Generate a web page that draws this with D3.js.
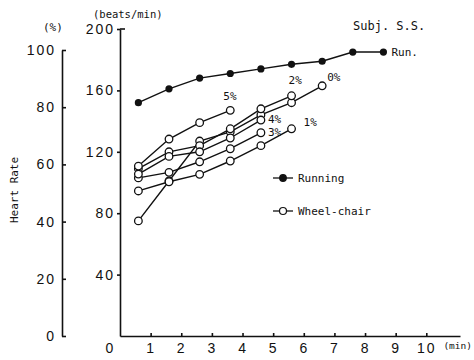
<!DOCTYPE html>
<html>
<head>
<meta charset="utf-8">
<script src="https://cdn.jsdelivr.net/npm/d3@7"></script>
<style>
  body { margin: 0; background: #fff; }
  svg { display: block; }
  .mono { font-family: "DejaVu Sans Mono", "Liberation Mono", monospace; fill: #111; }
  .tick text { font-family: "Liberation Sans", Arial, sans-serif; font-size: 14px; letter-spacing: 2px; fill: #111; }
  .domain, .tick line { stroke: #111; stroke-width: 1.6; }
</style>
</head>
<body>
<div id="chart"></div>
<script>
// time (min) of each measurement
var minutes = [0.6, 1.6, 2.6, 3.6, 4.6, 5.6, 6.6, 7.6, 8.6];

// heart rate (beats/min)
var running = [152, 161, 168, 171, 174, 177, 179, 185, 185];
var wheel0 = [75, 101, 127, 133, 144, 152, 163];
var wheel1 = [94.5, 100.5, 105.3, 114, 124, 135];
var wheel2 = [109, 120, 124, 135, 148, 156.5];
var wheel3 = [103, 106.6, 113.5, 122, 132.4];
var wheel4 = [105.5, 117, 120, 129, 140.7];
var wheel5 = [110.7, 128.3, 139, 147];

var wheelNames = ["0%", "1%", "2%", "3%", "4%", "5%"];
var wheelSeries = [wheel0, wheel1, wheel2, wheel3, wheel4, wheel5];

// tick labels
var xTicks = [0, 1, 2, 3, 4, 5, 6, 7, 8, 9, 10];
var yTicks = [40, 80, 120, 160, 200];
var pctTicks = [0, 20, 40, 60, 80, 100];

var width = 474, height = 360;

var svg = d3.select("#chart").append("svg")
    .attr("width", width)
    .attr("height", height);

// scales
var x = d3.scaleLinear().domain([0, 11.1]).range([120, 460]);
var y = d3.scaleLinear().domain([0, 200]).range([336, 29]);
var yPct = d3.scaleLinear().domain([0, 100]).range([336, 50]);

// main y axis (beats/min)
svg.append("g")
    .attr("transform", "translate(120,0)")
    .call(d3.axisLeft(y).tickValues(yTicks).tickSize(3).tickPadding(2).tickSizeOuter(0));
// small cap at the top of the axis
svg.append("line")
    .attr("x1", x(0)).attr("x2", x(0) + 5)
    .attr("y1", y(200)).attr("y2", y(200))
    .attr("stroke", "#111").attr("stroke-width", 1.6);

// percent axis
var pctAxis = svg.append("g")
    .attr("transform", "translate(62,0)")
    .call(d3.axisRight(yPct).tickValues(pctTicks).tickSize(4).tickSizeOuter(0));
pctAxis.selectAll(".tick text")
    .attr("text-anchor", "end")
    .attr("x", -6);

// x axis
var xAxis = svg.append("g")
    .attr("transform", "translate(0,336)")
    .call(d3.axisTop(x).tickValues(xTicks).tickSize(3).tickSizeOuter(0));
xAxis.selectAll(".tick text")
    .attr("y", 17)
    .attr("dy", "0");
xAxis.selectAll(".tick")
    .filter(function(d) { return d == 0; })
    .select("text").attr("x", -10);
xAxis.selectAll(".tick line")
    .filter(function(d) { return d == 0; })
    .remove();

var line = d3.line()
    .x(function(d, i) { return x(minutes[i]); })
    .y(function(d) { return y(d); });

// wheel-chair lines
wheelSeries.forEach(function(s) {
    svg.append("path")
        .attr("d", line(s))
        .attr("fill", "none")
        .attr("stroke", "#111")
        .attr("stroke-width", 1.4);
});

// running line
svg.append("path")
    .attr("d", line(running))
    .attr("fill", "none")
    .attr("stroke", "#111")
    .attr("stroke-width", 1.4);

// open circles
wheelSeries.forEach(function(s) {
    svg.selectAll(null)
        .data(s)
      .enter().append("circle")
        .attr("cx", function(d, i) { return x(minutes[i]); })
        .attr("cy", function(d) { return y(d); })
        .attr("r", 3.8)
        .attr("fill", "#fff")
        .attr("stroke", "#111")
        .attr("stroke-width", 1.3);
});

// filled dots
svg.selectAll(null)
    .data(running)
  .enter().append("circle")
    .attr("cx", function(d, i) { return x(minutes[i]); })
    .attr("cy", function(d) { return y(d); })
    .attr("r", 3.6)
    .attr("fill", "#111");

// series labels
var labelPos = {
  "5%": {dx: -7, dy: -10},
  "2%": {dx: -3, dy: -12},
  "0%": {dx: 5, dy: -5},
  "4%": {dx: 7, dy: 3},
  "3%": {dx: 7, dy: 3},
  "1%": {dx: 12, dy: -3}
};
wheelNames.forEach(function(name, k) {
    var s = wheelSeries[k];
    var last = s.length - 1;
    svg.append("text")
        .attr("class", "mono")
        .attr("x", x(minutes[last]) + labelPos[name].dx)
        .attr("y", y(s[last]) + labelPos[name].dy)
        .style("font-size", "11px")
        .text(name);
});
svg.append("text")
    .attr("class", "mono")
    .attr("x", x(minutes[running.length - 1]) + 8)
    .attr("y", y(running[running.length - 1]) + 4)
    .style("font-size", "11px")
    .text("Run.");

// legend
var legend = [{name: "Running", filled: true, y: 178}, {name: "Wheel-chair", filled: false, y: 211}];
legend.forEach(function(l) {
    svg.append("line")
        .attr("x1", 273).attr("x2", 293)
        .attr("y1", l.y).attr("y2", l.y)
        .attr("stroke", "#111").attr("stroke-width", 1.3);
    svg.append("circle")
        .attr("cx", 283).attr("cy", l.y)
        .attr("r", l.filled ? 3.3 : 3.5)
        .attr("fill", l.filled ? "#111" : "#fff")
        .attr("stroke", "#111").attr("stroke-width", 1.2);
    svg.append("text")
        .attr("class", "mono")
        .attr("x", 298).attr("y", l.y + 4)
        .style("font-size", "11px")
        .text(l.name);
});

// titles
svg.append("text").attr("class", "mono")
    .attr("x", 93).attr("y", 18)
    .style("font-size", "10.5px")
    .text("(beats/min)");
svg.append("text").attr("class", "mono")
    .attr("x", 43).attr("y", 31)
    .style("font-size", "11px")
    .text("(%)");
svg.append("text").attr("class", "mono")
    .attr("x", 353).attr("y", 30)
    .style("font-size", "12px")
    .text("Subj. S.S.");
svg.append("text").attr("class", "mono")
    .attr("transform", "translate(18,190) rotate(-90)")
    .attr("text-anchor", "middle")
    .style("font-size", "11px")
    .text("Heart Rate");
svg.append("text").attr("class", "mono")
    .attr("x", 472).attr("y", 349)
    .attr("text-anchor", "end")
    .style("font-size", "9.5px")
    .text("(min)");
</script>
</body>
</html>
